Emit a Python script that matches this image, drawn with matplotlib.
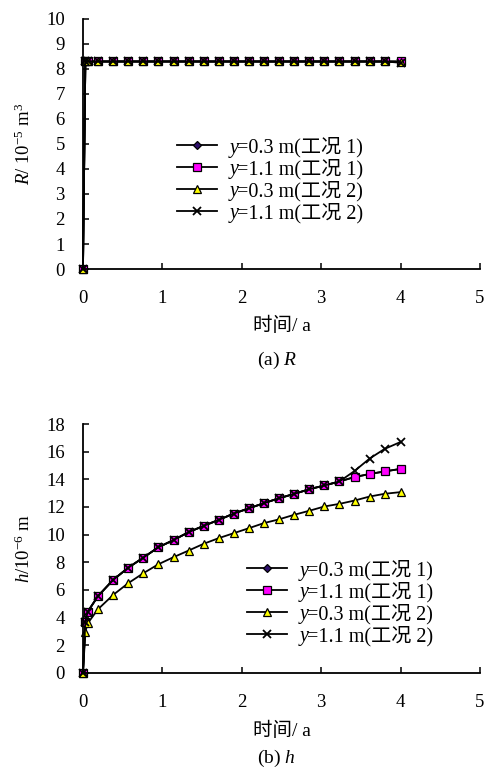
import matplotlib
matplotlib.use('Agg')
import matplotlib.pyplot as plt

plt.rcParams['font.family'] = ['Liberation Serif', 'Noto Sans CJK SC']
plt.rcParams['mathtext.fontset'] = 'custom'
plt.rcParams['mathtext.rm'] = 'Liberation Serif'
plt.rcParams['mathtext.it'] = 'Liberation Serif:italic'
plt.rcParams['font.size'] = 13

# time (a)
t = [0, 0.03, 0.06, 0.19, 0.38, 0.57, 0.76, 0.95, 1.14, 1.33, 1.52, 1.71,
     1.90, 2.09, 2.28, 2.47, 2.66, 2.85, 3.04, 3.23, 3.42, 3.61, 3.80, 4.0]

# (a) R / 1e-5 m^3
R_y03_c1 = [0, 8.3, 8.3, 8.3, 8.3, 8.3, 8.3, 8.3, 8.3, 8.3, 8.3, 8.3,
            8.3, 8.3, 8.3, 8.3, 8.3, 8.3, 8.3, 8.3, 8.3, 8.3, 8.3, 8.3]
R_y11_c1 = [0, 8.3, 8.3, 8.3, 8.3, 8.3, 8.3, 8.3, 8.3, 8.3, 8.3, 8.3,
            8.3, 8.3, 8.3, 8.3, 8.3, 8.3, 8.3, 8.3, 8.3, 8.3, 8.3, 8.3]
R_y03_c2 = [0, 8.3, 8.3, 8.3, 8.3, 8.3, 8.3, 8.3, 8.3, 8.3, 8.3, 8.3,
            8.3, 8.3, 8.3, 8.3, 8.3, 8.3, 8.3, 8.3, 8.3, 8.3, 8.3, 8.28]
R_y11_c2 = [0, 8.3, 8.3, 8.3, 8.3, 8.3, 8.3, 8.3, 8.3, 8.3, 8.3, 8.3,
            8.3, 8.3, 8.3, 8.3, 8.3, 8.3, 8.3, 8.3, 8.3, 8.3, 8.3, 8.25]

# (b) h / 1e-6 m
h_y03_c1 = [0, 3.70, 4.42, 5.55, 6.72, 7.60, 8.33, 9.08, 9.60, 10.17, 10.63, 11.06,
            11.52, 11.90, 12.27, 12.63, 12.94, 13.28, 13.55, 13.84, 14.16, 14.38, 14.57, 14.75]
h_y11_c1 = [0, 3.70, 4.42, 5.55, 6.72, 7.60, 8.33, 9.08, 9.60, 10.17, 10.63, 11.06,
            11.52, 11.90, 12.27, 12.63, 12.94, 13.28, 13.55, 13.84, 14.16, 14.38, 14.57, 14.75]
h_y03_c2 = [0, 2.97, 3.58, 4.60, 5.63, 6.48, 7.20, 7.85, 8.36, 8.84, 9.33, 9.74,
            10.10, 10.46, 10.83, 11.10, 11.43, 11.72, 12.03, 12.22, 12.46, 12.75, 12.95, 13.07]
h_y11_c2 = [0, 3.70, 4.42, 5.55, 6.72, 7.60, 8.33, 9.08, 9.60, 10.17, 10.63, 11.06,
            11.52, 11.90, 12.27, 12.63, 12.94, 13.28, 13.55, 13.84, 14.60, 15.50, 16.20, 16.70]

labels = ['=0.3 m(工况 1)', '=1.1 m(工况 1)', '=0.3 m(工况 2)', '=1.1 m(工况 2)']
x_ticks = [0, 1, 2, 3, 4, 5]

styles = [
    dict(marker='D', markerfacecolor='#2E0F6B', markersize=4.5),
    dict(marker='s', markerfacecolor='#FF00FF', markersize=5.5),
    dict(marker='^', markerfacecolor='#FFFF00', markersize=6),
    dict(marker='x', markerfacecolor='black', markersize=6, markeredgewidth=1.3),
]

W, H = 489, 775
LEGFS = 14.5
fig = plt.figure(figsize=(W / 100, H / 100), dpi=100)


def make_axes(rect, series, ylim, yticks, ylabel, legend_anchor, xlabelpad):
    ax = fig.add_axes(rect)
    for y, lab, st in zip(series, labels, styles):
        st = dict(st)
        mew = st.pop('markeredgewidth', 0.9)
        ax.plot(t, y, color='black', lw=1.3, markeredgecolor='black',
                markeredgewidth=mew, label=lab, clip_on=False, **st)
    ax.set_xlim(0, 5)
    ax.set_ylim(*ylim)
    ax.set_xticks(x_ticks)
    ax.set_yticks(yticks)
    for s in ['top', 'right']:
        ax.spines[s].set_visible(False)
    for s in ['left', 'bottom']:
        ax.spines[s].set_linewidth(1.3)
    ax.tick_params(direction='in', length=4, width=1.1, labelsize=13.5)
    ax.tick_params(axis='x', pad=15)
    ax.tick_params(axis='y', pad=13)
    ax.set_ylabel(ylabel, fontsize=13.5, labelpad=9)
    ax.set_xlabel('时间/ a', fontsize=14, labelpad=xlabelpad)
    leg = ax.legend(loc='upper left', bbox_to_anchor=legend_anchor,
                    bbox_transform=fig.transFigure, frameon=False,
                    fontsize=LEGFS, handlelength=2.0, handletextpad=1.0,
                    labelspacing=0.07, borderpad=0, borderaxespad=0)
    return ax, leg


ax1, leg1 = make_axes([0.1697, 0.6529, 0.8119, 0.3226],
                      [R_y03_c1, R_y11_c1, R_y03_c2, R_y11_c2],
                      (0, 10), list(range(0, 11)),
                      r'$R$/ 10$^{-5}$ m$^{3}$', (177 / W, 1 - 137 / H), 7)
ax2, leg2 = make_axes([0.1697, 0.1320, 0.8119, 0.3209],
                      [h_y03_c1, h_y11_c1, h_y03_c2, h_y11_c2],
                      (0, 18), list(range(0, 19, 2)),
                      r'$h$/10$^{-6}$ m', (247 / W, 1 - 560 / H), 8)

fig.text(0.566, 1 - 360 / H, '(a) $R$', ha='center', va='center', fontsize=14)
fig.text(0.566, 1 - 758 / H, '(b) $h$', ha='center', va='center', fontsize=14)

fig.canvas.draw()
renderer = fig.canvas.get_renderer()
for leg in (leg1, leg2):
    for txt in leg.get_texts():
        bb = txt.get_window_extent(renderer)
        fig.text((bb.x0 + 1) / W, bb.y0 / H, 'y', ha='right', va='bottom',
                 fontsize=LEGFS, fontstyle='italic', family='Liberation Serif')

fig.savefig('out.png', dpi=100)
